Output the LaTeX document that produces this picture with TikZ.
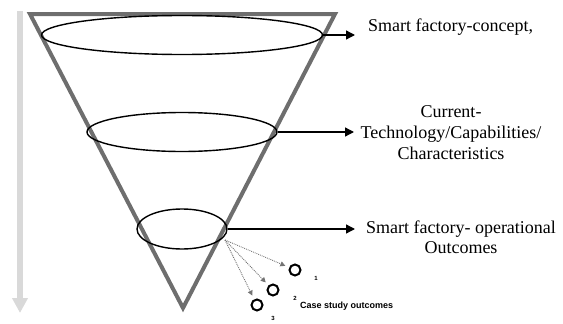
\documentclass[tikz,border=0pt]{standalone}
\usepackage{fontspec}
\setmainfont{Liberation Serif}
\newfontfamily\labelfont{Liberation Sans}
\usepackage{tikz}
\usetikzlibrary{positioning, arrows.meta, shapes.geometric}

\definecolor{funnelgray}{HTML}{6E6E6E}
\definecolor{flowgray}{HTML}{D9D9D9}

\tikzset{
  ring/.style={ellipse, draw=black, line width=1.4pt, inner sep=0pt},
  caption/.style={font=\fontsize{18}{21}\selectfont, align=center, inner sep=0pt},
  link/.style={-{Triangle[length=9pt,width=9pt]}, line width=1.3pt},
  outcome/.style={circle, draw=black, line width=2pt, minimum size=11pt, inner sep=0pt},
  tiny/.style={font=\labelfont\bfseries\fontsize{6}{7}\selectfont, inner sep=0pt},
  feed/.style={densely dotted, line width=0.9pt, black!55, -{Triangle[length=5pt,width=5pt]}}
}

\begin{document}
\begin{tikzpicture}[x=1pt, y=-1pt]
\useasboundingbox (0,0) rectangle (563,324);
% direction arrow
\draw[flowgray, line width=6pt, -{Triangle[length=15pt,width=15pt]}] (20,11) -- (20,313);
% funnel
\draw[funnelgray, line width=4pt, line join=miter] (30,14) -- (335,14) -- (183,308) -- cycle;
% levels
\node[ring, minimum width=281pt, minimum height=39pt] (e1) at (182,35) {};
\node[ring, minimum width=190pt, minimum height=39pt] (e2) at (182,132) {};
\node[ring, minimum width=90pt, minimum height=40pt] (e3) at (182,229) {};
% arrow tips
\coordinate (tip1) at (355,35);
\coordinate (tip2) at (354,132);
\coordinate (tip3) at (355,229);
\draw[link] (e1.east) -- (tip1);
\draw[link] (e2.east) -- (tip2);
\draw[link] (e3.east) -- (tip3);
% captions
\node[caption, anchor=base west] (t1) at (368,31) {Smart factory-concept,};
\node[caption, anchor=center] (t2) at (451,133) {Current-\\Technology/Capabilities/\\Characteristics};
\node[caption, anchor=center, font=\fontsize{18}{20.5}\selectfont] (t3) at (461,237) {Smart factory- operational\\Outcomes};
% case studies
\coordinate (src) at (225,240);
\node[outcome] (o1) at (295,270) {};
\node[outcome] (o2) at (273,290) {};
\node[outcome] (o3) at (257,305) {};
\draw[feed, shorten >=4pt] (src) -- (o1);
\draw[feed, shorten >=4pt] (src) -- (o2);
\draw[feed, shorten >=4pt] (src) -- (o3);
\node[tiny] (n1) at (316,278) {1};
\node[tiny] (n2) at (295,298) {2};
\node[tiny] (n3) at (273,318) {3};
\node[tiny, font=\labelfont\bfseries\fontsize{9}{10}\selectfont, anchor=west] (cs) at (300,306) {Case study outcomes};
\end{tikzpicture}
\end{document}
